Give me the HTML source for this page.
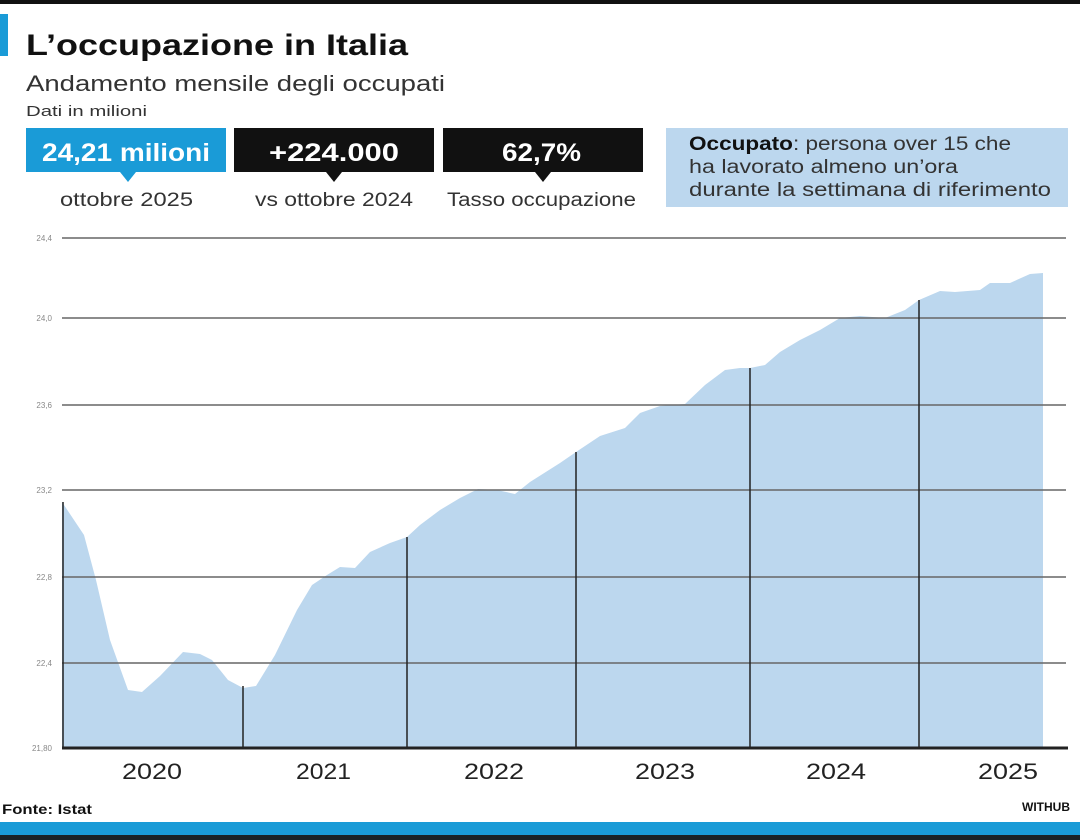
<!DOCTYPE html>
<html><head><meta charset="utf-8"><style>
body{margin:0;width:1080px;height:840px;background:#fff;overflow:hidden;font-family:"Liberation Sans",sans-serif}
</style></head><body>
<svg width="1080" height="840" xmlns="http://www.w3.org/2000/svg" style="position:absolute;left:0;top:0;font-family:'Liberation Sans',sans-serif">
<rect x="0" y="0" width="1080" height="4" fill="#111"/>
<rect x="0" y="14" width="8" height="42" fill="#1a9bd7"/>
<text x="26" y="55" font-size="30" font-weight="bold" fill="#111" textLength="382" lengthAdjust="spacingAndGlyphs">L’occupazione in Italia</text>
<text x="26" y="91" font-size="22" fill="#333" textLength="419" lengthAdjust="spacingAndGlyphs">Andamento mensile degli occupati</text>
<text x="26" y="116" font-size="15" fill="#333" textLength="121" lengthAdjust="spacingAndGlyphs">Dati in milioni</text>
<rect x="26" y="128" width="200" height="44" fill="#1a9bd7"/>
<polygon points="120,172 136,172 128,182" fill="#1a9bd7"/>
<text x="42" y="161" font-size="25" font-weight="bold" fill="#fff" textLength="168" lengthAdjust="spacingAndGlyphs">24,21 milioni</text>
<rect x="234" y="128" width="200" height="44" fill="#111"/>
<polygon points="326,172 342,172 334,182" fill="#111"/>
<text x="269" y="161" font-size="25" font-weight="bold" fill="#fff" textLength="130" lengthAdjust="spacingAndGlyphs">+224.000</text>
<rect x="443" y="128" width="200" height="44" fill="#111"/>
<polygon points="535,172 551,172 543,182" fill="#111"/>
<text x="502" y="161" font-size="25" font-weight="bold" fill="#fff" textLength="79" lengthAdjust="spacingAndGlyphs">62,7%</text>
<text x="60" y="206" font-size="19" fill="#333" textLength="133" lengthAdjust="spacingAndGlyphs">ottobre 2025</text>
<text x="255" y="206" font-size="19" fill="#333" textLength="158" lengthAdjust="spacingAndGlyphs">vs ottobre 2024</text>
<text x="447" y="206" font-size="19" fill="#333" textLength="189" lengthAdjust="spacingAndGlyphs">Tasso occupazione</text>
<rect x="666" y="128" width="402" height="79" fill="#bcd7ee"/>
<text x="689" y="150" font-size="19" fill="#333" textLength="322" lengthAdjust="spacingAndGlyphs"><tspan font-weight="bold" fill="#111">Occupato</tspan>: persona over 15 che</text>
<text x="689" y="173" font-size="19" fill="#333" textLength="269" lengthAdjust="spacingAndGlyphs">ha lavorato almeno un’ora</text>
<text x="689" y="196" font-size="19" fill="#333" textLength="362" lengthAdjust="spacingAndGlyphs">durante la settimana di riferimento</text>
<path d="M62,748 L62,502 L84,535 L96,580 L110,640 L128,690 L142,692 L160,676 L183,652 L200,654 L212,660 L228,680 L243,688 L256,686 L275,655 L297,610 L312,585 L327,575 L340,567 L355,568 L370,552 L390,543 L407,537 L420,525 L440,510 L460,498 L478,489 L497,490 L515,494 L530,482 L560,463 L576,452 L600,436 L625,428 L640,413 L660,406 L685,404 L705,385 L725,370 L740,368 L750,368 L765,365 L780,352 L800,340 L820,330 L840,318 L860,316 L885,318 L905,310 L919,300 L940,291 L955,292 L980,290 L990,283 L1010,283 L1030,274 L1043,273 L1043,748 Z" fill="#bcd7ee"/>
<g stroke="#666" stroke-width="1.5">
<line x1="62" y1="238" x2="1066" y2="238"/>
<line x1="62" y1="318" x2="1066" y2="318"/>
<line x1="62" y1="405" x2="1066" y2="405"/>
<line x1="62" y1="490" x2="1066" y2="490"/>
<line x1="62" y1="577" x2="1066" y2="577"/>
<line x1="62" y1="663" x2="1066" y2="663"/>
</g>
<g stroke="#222" stroke-width="1.5">
<line x1="63" y1="502" x2="63" y2="748"/>
<line x1="243" y1="686" x2="243" y2="748"/>
<line x1="407" y1="537" x2="407" y2="748"/>
<line x1="576" y1="452" x2="576" y2="748"/>
<line x1="750" y1="368" x2="750" y2="748"/>
<line x1="919" y1="300" x2="919" y2="748"/>
</g>
<line x1="62" y1="748" x2="1068" y2="748" stroke="#222" stroke-width="3"/>
<g font-size="8" fill="#888" text-anchor="end">
<text x="52" y="241">24,4</text><text x="52" y="321">24,0</text><text x="52" y="408">23,6</text>
<text x="52" y="493">23,2</text><text x="52" y="580">22,8</text><text x="52" y="666">22,4</text><text x="52" y="751">21,80</text>
</g>
<g font-size="22" fill="#222">
<text x="122" y="779" textLength="60" lengthAdjust="spacingAndGlyphs">2020</text>
<text x="296" y="779" textLength="55" lengthAdjust="spacingAndGlyphs">2021</text>
<text x="464" y="779" textLength="60" lengthAdjust="spacingAndGlyphs">2022</text>
<text x="635" y="779" textLength="60" lengthAdjust="spacingAndGlyphs">2023</text>
<text x="806" y="779" textLength="60" lengthAdjust="spacingAndGlyphs">2024</text>
<text x="978" y="779" textLength="60" lengthAdjust="spacingAndGlyphs">2025</text>
</g>
<text x="2" y="814" font-size="14" font-weight="bold" fill="#111" textLength="90" lengthAdjust="spacingAndGlyphs">Fonte: Istat</text>
<text x="1022" y="811" font-size="12" font-weight="bold" fill="#111">WITHUB</text>
<rect x="0" y="822" width="1080" height="13" fill="#1a9bd7"/>
<rect x="0" y="835" width="1080" height="5" fill="#1a2226"/>
</svg>
</body></html>
